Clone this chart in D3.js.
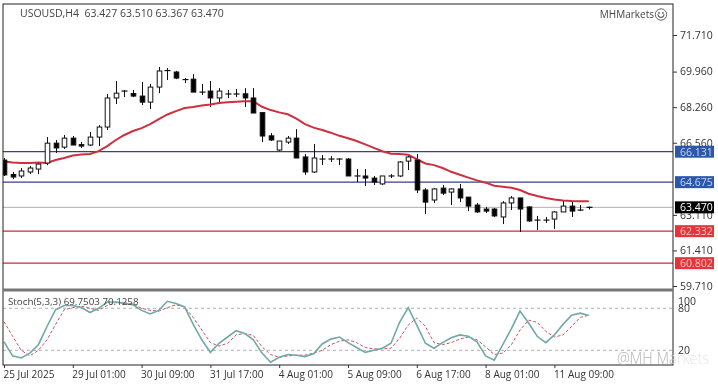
<!DOCTYPE html>
<html><head><meta charset="utf-8">
<script src="https://cdn.jsdelivr.net/npm/d3@7"></script>
<style>html,body{margin:0;padding:0;background:#fff}svg{display:block;filter:blur(.3px)}text{font-family:"Open Sans","DejaVu Sans",sans-serif}</style>
</head><body><svg id="c" width="718" height="387"></svg>
<script>
const open=[65.73,65.04,64.97,65.16,65.30,65.59,66.54,66.35,66.78,66.47,66.45,66.83,67.31,68.70,68.98,68.91,68.79,68.50,69.22,69.99,69.94,69.63,69.60,69.03,69.03,68.70,68.89,68.89,68.90,68.70,68.00,66.89,66.21,66.59,66.78,65.88,65.16,65.78,65.78,65.78,65.78,64.97,64.97,64.87,64.59,64.97,64.97,65.68,65.73,64.30,63.82,64.39,64.20,64.35,63.96,63.58,63.39,63.39,63.01,63.68,63.92,63.49,62.86,62.86,62.91,63.25,63.53,63.34,63.427];
const high=[65.83,65.16,65.35,65.45,65.64,66.83,66.69,66.93,66.88,66.59,67.07,67.40,68.89,69.51,69.08,69.08,69.46,69.37,70.18,70.13,69.99,69.65,69.84,69.37,69.51,69.17,69.08,69.13,69.17,69.17,68.03,67.02,66.64,66.88,67.21,66.02,66.50,65.97,65.92,65.80,65.83,65.30,65.30,64.97,64.97,65.06,65.68,65.97,66.02,64.39,64.39,64.54,64.39,64.59,63.96,63.68,63.49,63.44,63.77,64.01,63.92,63.53,63.06,63.01,63.29,63.82,63.77,63.58,63.51];
const low=[64.97,64.82,64.87,65.06,65.06,65.49,66.07,66.26,66.45,66.31,66.40,66.40,67.17,68.41,68.74,68.74,68.36,68.17,68.93,69.56,69.60,69.41,68.98,68.84,68.27,68.41,68.70,68.74,68.27,67.98,66.59,66.64,66.16,66.50,65.83,65.02,65.11,65.49,65.64,65.49,64.97,64.68,64.49,64.54,64.54,64.87,64.92,65.25,64.15,63.15,63.68,64.06,63.58,63.72,63.29,63.20,63.20,63.01,62.67,63.34,62.29,62.77,62.39,62.72,62.43,63.25,63.01,63.29,63.367];
const close=[65.02,64.92,65.21,65.35,65.54,66.54,66.31,66.78,66.45,66.40,66.83,67.31,68.70,68.93,69.03,68.79,68.50,69.22,69.99,70.01,69.65,69.58,68.98,68.98,68.70,69.03,68.89,68.89,68.70,67.98,66.88,66.69,66.64,66.78,65.83,65.16,65.83,65.78,65.78,65.78,64.97,64.97,64.87,64.68,64.97,64.97,65.64,65.88,64.30,63.72,64.35,64.15,64.35,63.92,63.53,63.25,63.29,63.06,63.68,63.92,63.39,62.82,62.86,62.86,63.25,63.53,63.29,63.34,63.47];
const ma=[65.66,65.61,65.59,65.59,65.61,65.59,65.73,65.83,65.95,66.00,66.02,66.16,66.40,66.69,66.93,67.12,67.26,67.45,67.69,67.91,68.07,68.22,68.27,68.34,68.39,68.46,68.50,68.52,68.54,68.54,68.28,68.12,68.01,67.92,67.71,67.45,67.28,67.17,67.04,66.89,66.77,66.64,66.48,66.31,66.15,66.03,66.02,65.99,65.77,65.57,65.49,65.35,65.17,65.03,64.89,64.76,64.65,64.50,64.46,64.41,64.30,64.12,64.01,63.92,63.85,63.80,63.77,63.76,63.76];
const stochMain=[32,12,9,16,28,54,78,84,84,81,74,80,89,89,87,85,77,72,77,90,87,82,57,35,17,30,39,48,44,35,16,3,10,14,13,11,15,29,36,39,31,24,17,20,23,30,60,81,56,30,23,31,38,42,40,32,12,6,28,51,76,59,40,31,42,57,70,73,69.75];
const stochSignal=[61,40,20,12,20,35,57,78,81,83,80,77,84,88,88,86,80,77,76,81,85,82,67,49,31,26,30,42,44,41,25,14,10,12,13,13,16,20,28,33,35,31,24,22,22,23,37,56,66,54,31,28,31,36,39,35,25,14,16,28,49,63,60,47,39,42,54,67,70.13];
const priceTicks=[71.71,69.96,68.26,66.56,63.11,61.41,59.71];
const stochTicks=[100,80,20];
const stochLevels=[80,20];
const timeTicks=[0,8,16,24,32,40,48,56,64];
const timeLabels=["25 Jul 2025","29 Jul 01:00","30 Jul 09:00","31 Jul 17:00","4 Aug 01:00","5 Aug 09:00","6 Aug 17:00","8 Aug 01:00","11 Aug 09:00"];
const blueLevels=[66.131,64.675];
const redLevels=[62.332,60.802];
const lastPrice=63.47;
const title="USOUSD,H4  63.427 63.510 63.367 63.470";
const stochTitle="Stoch(5,3,3) 69.7503 70.1258";

const svg=d3.select("#c");
const L=3,R=673,T=4,B1=289,T2=292,B2=365;
const x=d3.scaleLinear().domain([0,68]).range([4,588.8]);
const y=d3.scaleLinear().domain([59.71,71.71]).range([286,35]);
const ys=d3.scaleLinear().domain([0,100]).range([364.3,294.3]);
const defs=svg.append("defs");
defs.append("clipPath").attr("id","m").append("rect").attr("x",L).attr("y",T).attr("width",R-L).attr("height",B1-T);
defs.append("clipPath").attr("id","s").append("rect").attr("x",L).attr("y",T2).attr("width",R-L).attr("height",B2-T2);
const wm=defs.append("linearGradient").attr("id","wm").attr("gradientUnits","userSpaceOnUse").attr("x1",617).attr("x2",709).attr("y1",0).attr("y2",0);
const wmStop=(617+56-617)/92;
wm.append("stop").attr("offset",wmStop).attr("stop-color","#b4b4b4");
wm.append("stop").attr("offset",wmStop).attr("stop-color","#e6e6e6");
const main=svg.append("g").attr("clip-path","url(#m)");
const sub=svg.append("g").attr("clip-path","url(#s)");

main.append("line").attr("x1",L).attr("x2",R).attr("y1",y(lastPrice)).attr("y2",y(lastPrice)).attr("stroke","#b0b0b0").attr("stroke-width",1);
blueLevels.forEach(v=>main.append("line").attr("x1",L).attr("x2",R).attr("y1",y(v)).attr("y2",y(v)).attr("stroke","#3a3f86").attr("stroke-width",1.2));
redLevels.forEach(v=>main.append("line").attr("x1",L).attr("x2",R).attr("y1",y(v)).attr("y2",y(v)).attr("stroke","#d1293a").attr("stroke-width",1.2));

const idx=d3.range(open.length);
const flat=i=>Math.abs(open[i]-close[i])<.06;
main.selectAll("line.w").data(idx).join("line").attr("class","w")
 .attr("x1",i=>Math.round(x(i))+.5).attr("x2",i=>Math.round(x(i))+.5)
 .attr("y1",i=>y(high[i])).attr("y2",i=>y(low[i])).attr("stroke","#111");
main.append("path").datum(ma).attr("fill","none").attr("stroke","#d02f3e").attr("stroke-width",2)
 .attr("d",d3.line().x((d,i)=>x(i)).y(d=>y(d)));
main.selectAll("rect.b").data(idx.filter(i=>!flat(i))).join("rect").attr("class","b")
 .attr("x",i=>Math.round(x(i))-1.8).attr("width",4.6)
 .attr("y",i=>y(Math.max(open[i],close[i])))
 .attr("height",i=>Math.max(1,Math.abs(y(open[i])-y(close[i]))))
 .attr("fill",i=>close[i]>=open[i]?"#fff":"#000").attr("stroke","#111").attr("stroke-width",1);
main.selectAll("line.d").data(idx.filter(flat)).join("line").attr("class","d")
 .attr("x1",i=>Math.round(x(i))-2.5).attr("x2",i=>Math.round(x(i))+3.5)
 .attr("y1",i=>y(close[i])).attr("y2",i=>y(close[i])).attr("stroke","#111").attr("stroke-width",1.2);

stochLevels.forEach(v=>sub.append("line").attr("x1",L).attr("x2",R).attr("y1",ys(v)).attr("y2",ys(v)).attr("stroke","#b5b0ac").attr("stroke-dasharray","3,3"));
sub.append("path").datum(stochSignal).attr("fill","none").attr("stroke","#c8505f").attr("stroke-dasharray","3,2")
 .attr("d",d3.line().x((d,i)=>x(i)).y(d=>ys(d)));
sub.append("path").datum(stochMain).attr("fill","none").attr("stroke","#6fa9a8").attr("stroke-width",1.6)
 .attr("d",d3.line().x((d,i)=>x(i)).y(d=>ys(d)));

svg.append("rect").attr("x",L).attr("y",T).attr("width",R-L).attr("height",B2-T).attr("fill","none").attr("stroke","#222");
svg.append("line").attr("x1",L).attr("x2",R).attr("y1",290).attr("y2",290).attr("stroke","#777").attr("stroke-width",3);

const txt="#444";
svg.append("text").attr("x",20).attr("y",17).attr("font-size",10.5).attr("fill",txt).style("white-space","pre").text(title);
svg.append("text").attr("x",8).attr("y",305).attr("font-size",9.8).attr("fill",txt).text(stochTitle);
svg.append("text").attr("x",654).attr("y",18).attr("text-anchor","end").attr("font-size",10).attr("fill",txt).text("MHMarkets");
const sm=svg.append("g").attr("transform","translate(661,14.5)").attr("fill","none").attr("stroke","#666");
sm.append("circle").attr("r",5.7);
sm.append("path").attr("d",d3.arc()({innerRadius:3,outerRadius:3,startAngle:Math.PI/2,endAngle:Math.PI*1.5}));
sm.append("circle").attr("cx",-2).attr("cy",-1.5).attr("r",.6);
sm.append("circle").attr("cx",2).attr("cy",-1.5).attr("r",.6);

const styleAxis=(g,fs)=>{g.select(".domain").remove();g.selectAll("line").attr("stroke","#333");g.selectAll("text").attr("font-size",fs).attr("fill","#333");};
svg.append("g").attr("transform",`translate(${R},0)`).call(d3.axisRight(y).tickValues(priceTicks).tickSize(4).tickPadding(3).tickFormat(d3.format(".3f"))).call(styleAxis,10.5);
const sa=svg.append("g").attr("transform",`translate(${R},0)`).call(d3.axisRight(ys).tickValues(stochTicks).tickSize(0).tickPadding(5)).call(styleAxis,10.5);
sa.selectAll("text").filter(d=>d===100).attr("dy","1em");
const ax=svg.append("g").attr("transform",`translate(0,${B2})`).call(d3.axisBottom(x).tickValues(timeTicks).tickSize(3).tickPadding(3).tickFormat((d,i)=>timeLabels[i])).call(styleAxis,10);
ax.selectAll("text").attr("text-anchor","start").attr("dx",-1);

const tag=(v,fill,fc)=>{const g=svg.append("g");
 g.append("rect").attr("x",675).attr("y",y(v)-6).attr("width",39).attr("height",12).attr("fill",fill);
 g.append("text").attr("x",680).attr("y",y(v)+4).attr("font-size",10.5).attr("fill",fc).text(d3.format(".3f")(v));};
blueLevels.forEach(v=>tag(v,"#2c58ac","#c8d6f2"));
redLevels.forEach(v=>tag(v,"#e5343c","#f8c9c4"));
tag(lastPrice,"#000","#fff");

svg.append("text").attr("x",617).attr("y",364).attr("font-size",16).attr("textLength",92).attr("lengthAdjust","spacingAndGlyphs").attr("fill","url(#wm)").style("font-weight",300).text("@MH Markets");
</script></body></html>
